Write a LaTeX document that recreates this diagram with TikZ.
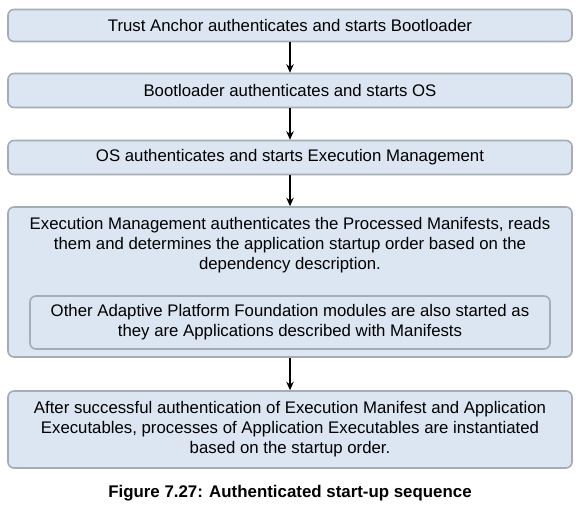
\documentclass[tikz,border=0pt]{standalone}
\usepackage{fontspec}
\setmainfont{Liberation Sans}
\usetikzlibrary{arrows.meta}
\usetikzlibrary{positioning}

\definecolor{boxfill}{RGB}{220,230,242}
\definecolor{boxline}{RGB}{164,172,182}

\tikzset{
  stepbox/.style={draw=boxline,fill=boxfill,line width=0.9pt,rounded corners=0.12cm,
    minimum width=11.28cm,inner sep=0pt,align=center,font=\fontsize{9.55}{11.4}\selectfont},
  innerbox/.style={stepbox,minimum width=10.4cm},
  flowarrow/.style={-{Stealth[length=0.17cm,width=0.15cm]},line width=0.8pt,black}
}

\begin{document}
\begin{tikzpicture}
\useasboundingbox (0,0) rectangle (11.62,-10.22);
\node[stepbox,minimum height=0.64cm] (anchor) at (5.8,-0.51) {Trust Anchor authenticates and starts Bootloader};
\node[stepbox,minimum height=0.68cm] (boot) at (5.8,-1.81) {Bootloader authenticates and starts OS};
\node[stepbox,minimum height=0.68cm] (os) at (5.8,-3.15) {OS authenticates and starts Execution Management};
\node[stepbox,minimum height=3.0cm] (em) at (5.8,-5.64) {};
\node[align=center,inner sep=0pt,font=\fontsize{9.55}{11.4}\selectfont] (emtext) at (5.8,-4.9)
  {Execution Management authenticates the Processed Manifests, reads\\them and determines the application startup order based on the\\dependency description.};
\node[innerbox,minimum height=1.06cm] (found) at (5.8,-6.45)
  {Other Adaptive Platform Foundation modules are also started as\\they are Applications described with Manifests};
\node[stepbox,minimum height=1.54cm] (inst) at (5.8,-8.59)
  {After successful authentication of Execution Manifest and Application\\Executables, processes of Application Executables are instantiated\\based on the startup order.};

\draw[flowarrow] (anchor) -- (boot);
\draw[flowarrow] (boot) -- (os);
\draw[flowarrow] (os) -- (em);
\draw[flowarrow] (em) -- (inst);

\node[font=\fontsize{9.6}{11}\selectfont\bfseries] (caption) at (5.8,-9.86) {Figure 7.27: Authenticated start-up sequence};
\end{tikzpicture}
\end{document}
